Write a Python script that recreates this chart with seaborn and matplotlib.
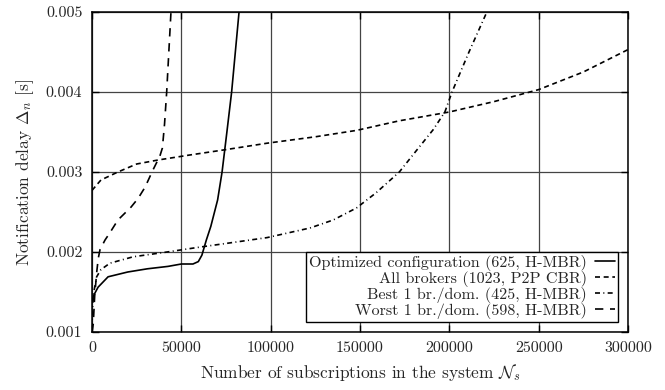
import matplotlib
matplotlib.use("Agg")
import matplotlib.pyplot as plt
import seaborn as sns
import pandas as pd

# valores
series = [
    "Optimized configuration (625, H-MBR)",
    "All brokers (1023, P2P CBR)",
    "Best 1 br./dom. (425, H-MBR)",
    "Worst 1 br./dom. (598, H-MBR)",
]

opt_x = [0, 1000, 3400, 9000, 20000, 31000, 42500, 50000, 56500, 59500, 61500,
         64000, 66500, 70300, 72800, 75500, 78150, 82300]
opt_y = [0.00138, 0.00146, 0.00156, 0.00169, 0.00175, 0.00179, 0.00182, 0.00185,
         0.00185, 0.00188, 0.00196, 0.00215, 0.00232, 0.00265, 0.00300, 0.00350,
         0.00400, 0.00500]

all_x = [0, 5000, 14500, 25000, 37000, 54000, 75000, 98000, 125000, 148000,
         172000, 200000, 225000, 250000, 275000, 300000]
all_y = [0.00277, 0.00290, 0.00300, 0.00310, 0.00315, 0.00321, 0.00328, 0.00336,
         0.00344, 0.00352, 0.00364, 0.00375, 0.00388, 0.00403, 0.00425, 0.00453]

best_x = [0, 300, 1000, 2600, 5000, 10000, 23000, 42000, 60000, 76000, 98000,
          122000, 135000, 148000, 159000, 172000, 182000, 191000, 197500, 201500,
          211000, 221000]
best_y = [0.00105, 0.00130, 0.00150, 0.00169, 0.00178, 0.00186, 0.00194, 0.00200,
          0.00206, 0.00211, 0.00218, 0.00230, 0.00240, 0.00255, 0.00274, 0.00300,
          0.00328, 0.00353, 0.00375, 0.00400, 0.00450, 0.00500]

worst_x = [0, 700, 1500, 2600, 3500, 4500, 7300, 10000, 14500, 21800, 25800,
           29700, 34000, 38000, 39400, 40600, 41800, 43000, 44200]
worst_y = [0.00100, 0.00110, 0.00145, 0.00174, 0.00192, 0.00203, 0.00215, 0.00224,
           0.00240, 0.00256, 0.00267, 0.00281, 0.00302, 0.00320, 0.00330, 0.00360,
           0.00400, 0.00450, 0.00500]

x_ticks = [0, 50000, 100000, 150000, 200000, 250000, 300000]
y_ticks = [0.001, 0.002, 0.003, 0.004, 0.005]

frames = []
for nombre, xs, ys in zip(series, [opt_x, all_x, best_x, worst_x],
                          [opt_y, all_y, best_y, worst_y]):
    frames.append(pd.DataFrame({"x": xs, "y": ys, "serie": nombre}))
df = pd.concat(frames, ignore_index=True)

sns.set_theme(style="ticks")
plt.rcParams["font.family"] = ["cmr10", "DejaVu Serif"]
plt.rcParams["mathtext.fontset"] = "cm"
plt.rcParams["axes.unicode_minus"] = False
plt.rcParams["axes.formatter.use_mathtext"] = True

fig = plt.figure(figsize=(6.65, 3.9), dpi=100)
ax = fig.add_axes([92 / 665, 1 - 332 / 390, 536 / 665, 320 / 390])

estilos = {
    series[0]: "",
    series[1]: (3, 2.2),
    series[2]: (3, 2, 0.6, 2),
    series[3]: (5, 4),
}
sns.lineplot(data=df, x="x", y="y", hue="serie", style="serie",
             palette=["black"] * 4, dashes=estilos, estimator=None, sort=True,
             linewidth=1.2, legend=False, ax=ax)

ax.set_xlim(0, 300000)
ax.set_ylim(0.001, 0.005)
ax.set_xticks(x_ticks)
ax.set_xticklabels([str(t) for t in x_ticks])
ax.set_yticks(y_ticks)
ax.set_yticklabels([f"{t:.3f}" for t in y_ticks])
ax.grid(True, color="#444444", linewidth=0.9)
ax.set_axisbelow(True)
ax.tick_params(direction="in", length=5, width=1, top=True, right=True,
               labelsize=11.5, pad=7, color="black")
for s in ax.spines.values():
    s.set_color("black")
    s.set_linewidth(1.1)

ax.set_xlabel(r"Number of subscriptions in the system $\mathcal{N}_s$",
              fontsize=12.5, labelpad=5)
ax.set_ylabel(r"Notification delay $\Delta_n$ [s]", fontsize=12.5, labelpad=7)

leg = ax.legend(handles=ax.lines[:4], labels=series, loc="lower right",
                markerfirst=False, fontsize=11.6, frameon=True, fancybox=False,
                edgecolor="black", framealpha=1, borderaxespad=0.6,
                handlelength=1.25, handletextpad=0.5, labelspacing=0.0,
                borderpad=0.2)
leg.get_frame().set_linewidth(1.0)

fig.savefig("out.png", dpi=100)
